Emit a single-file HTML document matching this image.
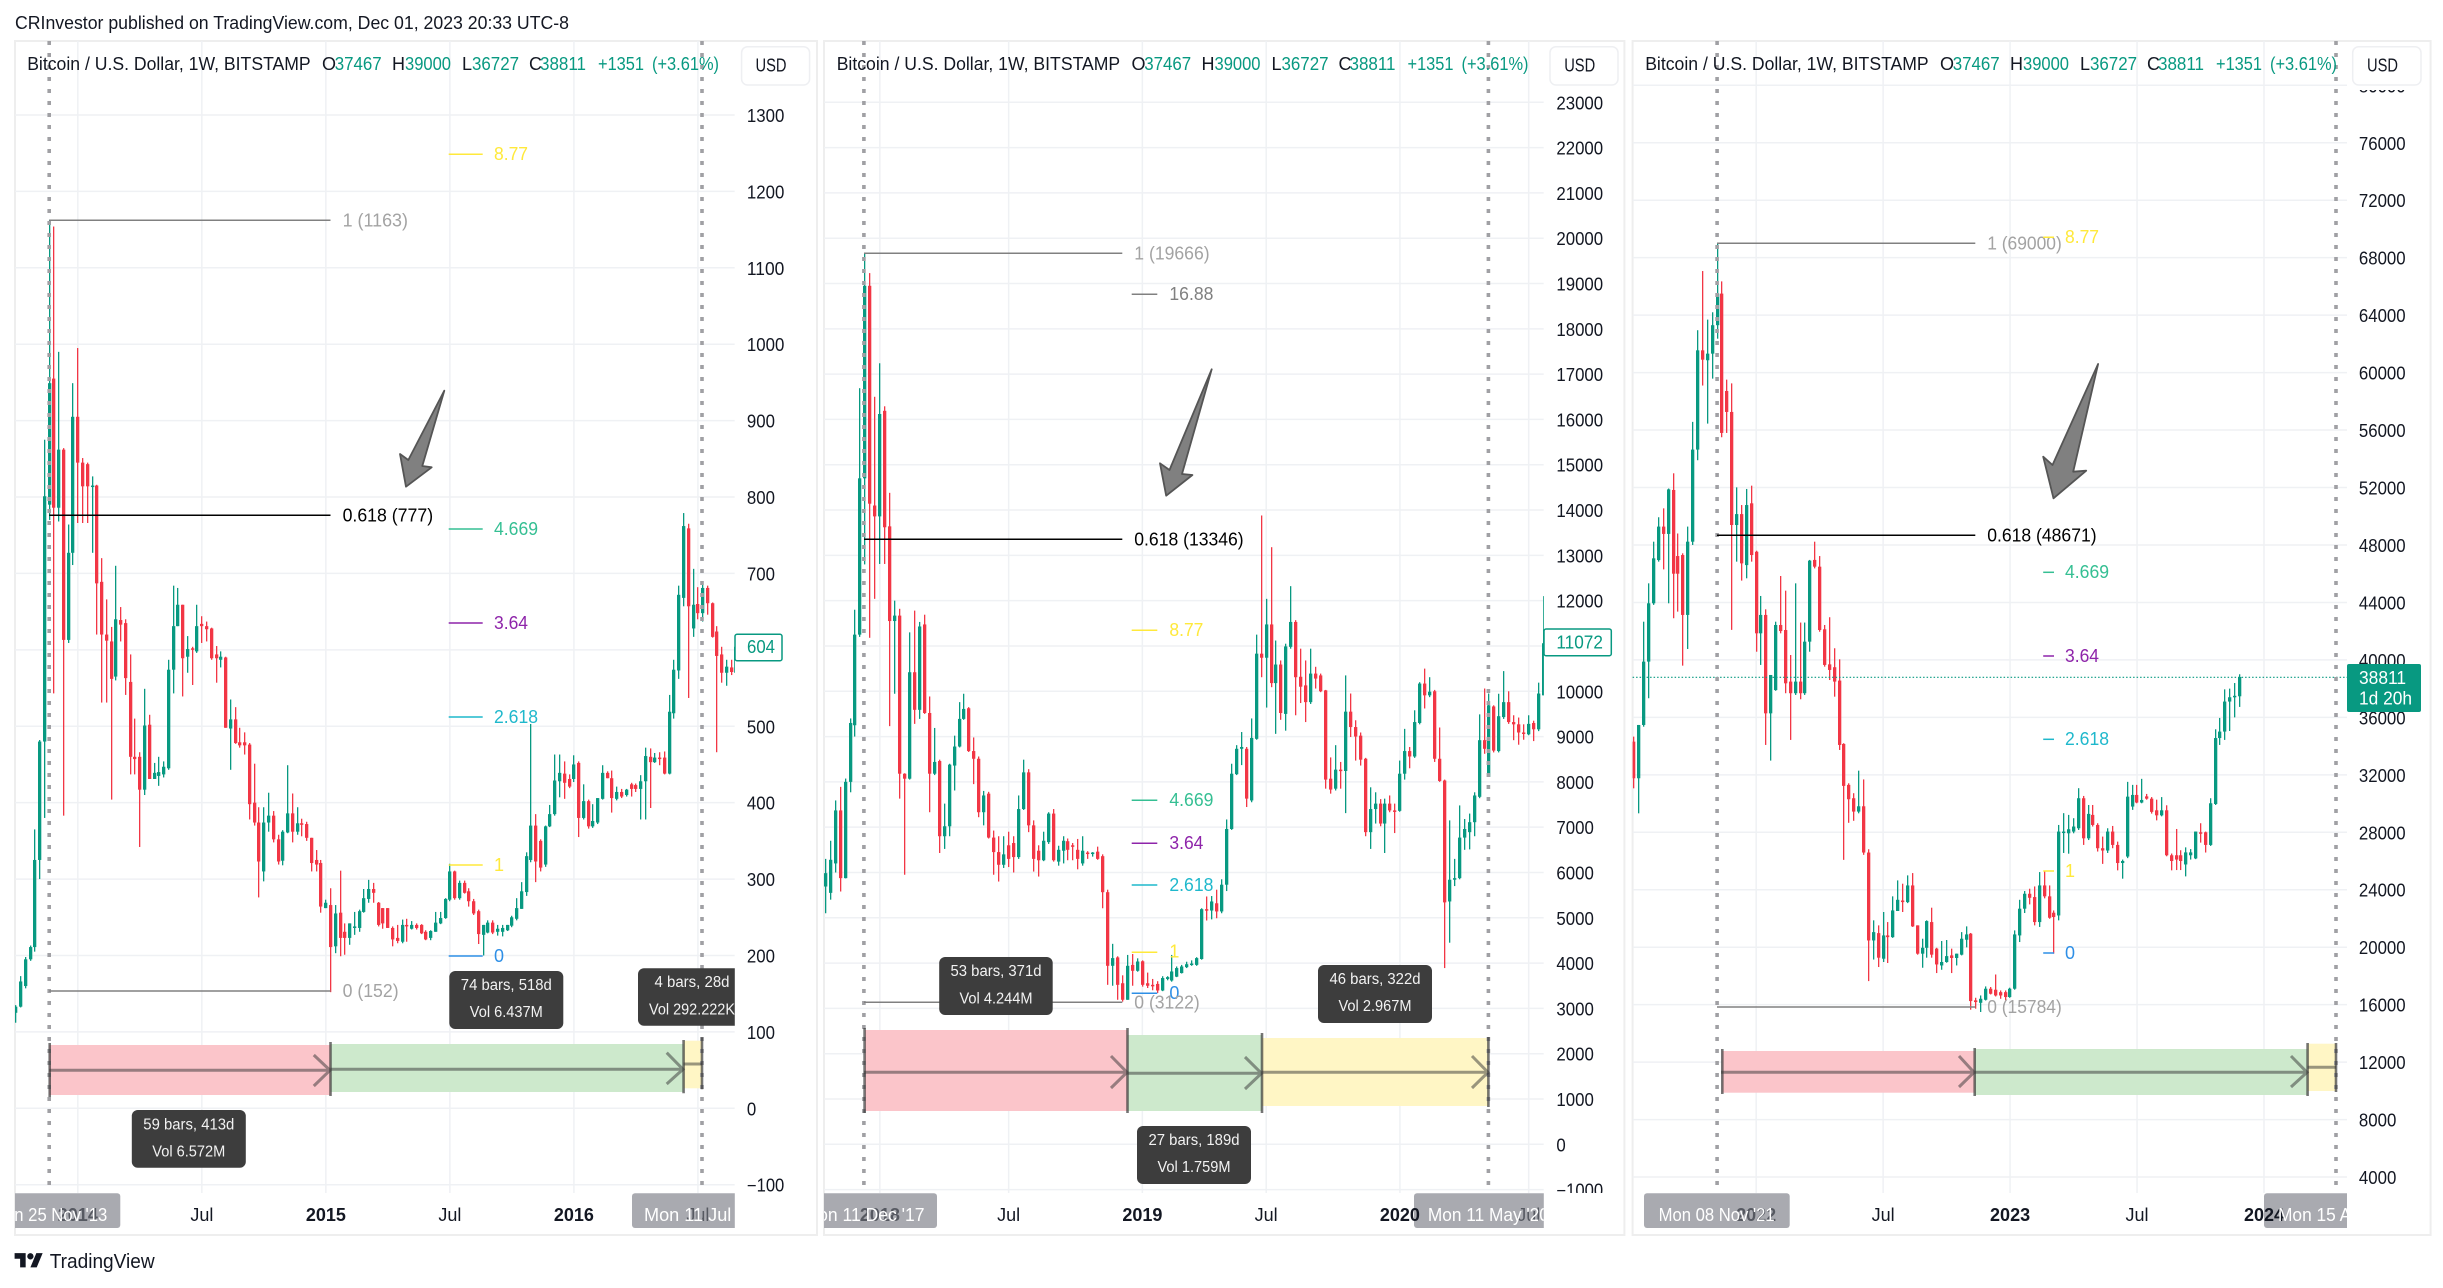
<!DOCTYPE html>
<html lang="en">
<head>
<meta charset="utf-8">
<title>Bitcoin / U.S. Dollar weekly comparison</title>
<style>
html,body{margin:0;padding:0;background:#fff;width:2443px;height:1288px;overflow:hidden}
svg{display:block;font-family:"Liberation Sans",sans-serif;fill:#131722}
text{dominant-baseline:central}
.lg{font-size:18px}
.g{fill:#089981}
.fib{font-size:18px}
.tt{font-size:15.5px;fill:#f2f2f2;text-anchor:middle}
.dt{font-size:18px;fill:#fff;text-anchor:middle}
.dot{stroke:#a0a0a4;stroke-width:3.6;stroke-dasharray:4 8;fill:none}
.edge{stroke:#333;stroke-opacity:.68;stroke-width:2.6;fill:none}
.arw{stroke:#333;stroke-opacity:.5;stroke-width:3;fill:none}
.grid{stroke:#eff1f4;stroke-width:1.5}
</style>
</head>
<body>
<svg id="chart" xmlns="http://www.w3.org/2000/svg" width="2443" height="1288" viewBox="0 0 2443 1288">
<defs>
<clipPath id="plot1"><rect x="15" y="41" width="719.8" height="1152"/></clipPath>
<clipPath id="plot2"><rect x="824" y="41" width="719.8" height="1152"/></clipPath>
<clipPath id="plot3"><rect x="1632.6" y="41" width="714.4" height="1152"/></clipPath>
<clipPath id="time1"><rect x="15" y="1193" width="719.8" height="42"/></clipPath>
<clipPath id="time2"><rect x="824" y="1193" width="719.8" height="42"/></clipPath>
<clipPath id="time3"><rect x="1632.6" y="1193" width="714.4" height="42"/></clipPath>
<clipPath id="axisclip"><rect x="0" y="88" width="2443" height="1105"/></clipPath>
<clipPath id="axisclip3"><rect x="0" y="90" width="2443" height="1103"/></clipPath>
</defs>
<rect x="0" y="0" width="2443" height="1288" fill="#ffffff"/>
<text x="15" y="23" font-size="18" textLength="554" lengthAdjust="spacingAndGlyphs">CRInvestor published on TradingView.com, Dec 01, 2023 20:33 UTC-8</text>

<!-- PANEL 1 -->
<g>
<rect x="15" y="41" width="802" height="1194" fill="#fff" stroke="#eeeeee" stroke-width="2"/>
<g id="grid1" clip-path="url(#plot1)"></g>
<g id="candles1" clip-path="url(#plot1)"></g>
<g clip-path="url(#plot1)">
<rect x="49.2" y="1045" width="281.3" height="50" fill="#fbc5ca"/>
<rect x="330.5" y="1044" width="353.1" height="48" fill="#cde9cc"/>
<rect x="683.6" y="1040.7" width="18.4" height="47.6" fill="#fff6c5"/>
<line class="dot" x1="49.2" x2="49.2" y1="41" y2="1186"/>
<line class="dot" x1="702" x2="702" y1="41" y2="1186"/>
<path class="edge" d="M49.7 1043V1097M330.5 1042V1096M683.6 1040V1093.3M702 1037.3V1089.3"/>
<path class="arw" d="M49.2 1070.3H330M313.8 1055L330 1070.3L313.8 1086M330.5 1069.3H683M666.7 1052.7L683 1069.3L666.7 1084M683.6 1064H702"/>
<line x1="49.2" x2="330.5" y1="220.3" y2="220.3" stroke="#808080" stroke-width="1.5"/>
<line x1="49.2" x2="330.5" y1="515.3" y2="515.3" stroke="#000" stroke-width="1.5"/>
<line x1="49.2" x2="330.5" y1="991" y2="991" stroke="#808080" stroke-width="1.5"/>
<text class="fib" x="342.6" y="220.3" fill="#a3a3a3" textLength="65.4" lengthAdjust="spacingAndGlyphs">1 (1163)</text>
<text class="fib" x="342.6" y="515.3" fill="#000" textLength="90.5" lengthAdjust="spacingAndGlyphs">0.618 (777)</text>
<text class="fib" x="342.6" y="991" fill="#a3a3a3" textLength="56" lengthAdjust="spacingAndGlyphs">0 (152)</text>
<path fill="none" stroke-width="1.5" stroke="#ffe93b" d="M448.7 154.3H482.7M448.7 865H482.7"/>
<line x1="448.7" x2="482.7" y1="529" y2="529" stroke="#35bf93" stroke-width="1.5"/>
<line x1="448.7" x2="482.7" y1="623" y2="623" stroke="#8e24aa" stroke-width="1.5"/>
<line x1="448.7" x2="482.7" y1="717" y2="717" stroke="#1fb8cc" stroke-width="1.5"/>
<line x1="448.7" x2="482.7" y1="956" y2="956" stroke="#2e8fe6" stroke-width="1.5"/>
<text class="fib" x="494" y="154" fill="#ffe93b" textLength="34" lengthAdjust="spacingAndGlyphs">8.77</text>
<text class="fib" x="494" y="529" fill="#35bf93" textLength="44" lengthAdjust="spacingAndGlyphs">4.669</text>
<text class="fib" x="494" y="623" fill="#8e24aa" textLength="34" lengthAdjust="spacingAndGlyphs">3.64</text>
<text class="fib" x="494" y="717" fill="#1fb8cc" textLength="44" lengthAdjust="spacingAndGlyphs">2.618</text>
<text class="fib" x="494" y="865" fill="#ffe93b">1</text>
<text class="fib" x="494" y="956" fill="#2e8fe6">0</text>
<polygon points="444.3,390.7 422.3,466 431.7,467.3 406,486.7 400,454 408.3,460" fill="#808080" stroke="#555" stroke-width="1.8" stroke-linejoin="round"/>
<g>
<rect x="131.8" y="1110" width="114" height="57.7" rx="6" fill="#3d3d3d"/>
<text class="tt" x="188.8" y="1125" textLength="91" lengthAdjust="spacingAndGlyphs">59 bars, 413d</text>
<text class="tt" x="188.8" y="1152" textLength="73" lengthAdjust="spacingAndGlyphs">Vol 6.572M</text>
</g>
<g>
<rect x="449.3" y="971" width="114" height="58" rx="6" fill="#3d3d3d"/>
<text class="tt" x="506.3" y="985.7" textLength="91" lengthAdjust="spacingAndGlyphs">74 bars, 518d</text>
<text class="tt" x="506.3" y="1012.7" textLength="73" lengthAdjust="spacingAndGlyphs">Vol 6.437M</text>
</g>
<g>
<rect x="638" y="968.3" width="114" height="57.4" rx="6" fill="#3d3d3d"/>
<text class="tt" x="692" y="982.7" textLength="75" lengthAdjust="spacingAndGlyphs">4 bars, 28d</text>
<text class="tt" x="692" y="1010" textLength="86" lengthAdjust="spacingAndGlyphs">Vol 292.222K</text>
</g>
</g>
<g clip-path="url(#time1)">
<rect x="-21" y="1193.3" width="141.3" height="34.7" rx="3" fill="#a9aab0"/>
<rect x="632" y="1193.3" width="140" height="34.7" rx="3" fill="#a9aab0"/>
<g id="xticks1"></g>
<text class="dt" x="49.2" y="1215" textLength="116" lengthAdjust="spacingAndGlyphs">Mon 25 Nov '13</text>
<text class="dt" x="702" y="1215" textLength="116" lengthAdjust="spacingAndGlyphs">Mon 11 Jul '16</text>
</g>
<g id="yticks1" clip-path="url(#axisclip)"></g>
<g>
<rect x="735" y="634.3" width="47" height="26.4" rx="2" fill="#fff" stroke="#089981" stroke-width="1.5"/>
<text class="g" x="747" y="647" font-size="18" textLength="28" lengthAdjust="spacingAndGlyphs">604</text>
</g>
<g>
<text class="lg" x="27.2" y="64" textLength="283.5" lengthAdjust="spacingAndGlyphs">Bitcoin / U.S. Dollar, 1W, BITSTAMP</text>
<text class="lg" x="322" y="64">O</text><text class="lg g" x="334.7" y="64" textLength="47" lengthAdjust="spacingAndGlyphs">37467</text>
<text class="lg" x="392" y="64">H</text><text class="lg g" x="405" y="64" textLength="46" lengthAdjust="spacingAndGlyphs">39000</text>
<text class="lg" x="462" y="64">L</text><text class="lg g" x="472" y="64" textLength="47" lengthAdjust="spacingAndGlyphs">36727</text>
<text class="lg" x="529" y="64">C</text><text class="lg g" x="540" y="64" textLength="46" lengthAdjust="spacingAndGlyphs">38811</text>
<text class="lg g" x="598" y="64" textLength="46" lengthAdjust="spacingAndGlyphs">+1351</text>
<text class="lg g" x="652" y="64" textLength="67" lengthAdjust="spacingAndGlyphs">(+3.61%)</text>
</g>
<g>
<rect x="741.6" y="46.7" width="68" height="38.3" rx="6" fill="#fff" stroke="#eeeff2" stroke-width="1.5"/>
<text x="771" y="65.7" font-size="18" text-anchor="middle" textLength="31" lengthAdjust="spacingAndGlyphs">USD</text>
</g>
</g>

<!-- PANEL 2 -->
<g>
<rect x="824" y="41" width="800.4" height="1194" fill="#fff" stroke="#eeeeee" stroke-width="2"/>
<g id="grid2" clip-path="url(#plot2)"></g>
<g id="candles2" clip-path="url(#plot2)"></g>
<g clip-path="url(#plot2)">
<rect x="865" y="1030" width="262.5" height="81" fill="#fbc5ca"/>
<rect x="1127.5" y="1035" width="134.5" height="76" fill="#cde9cc"/>
<rect x="1262" y="1038" width="226.4" height="68" fill="#fff6c5"/>
<line class="dot" x1="863.9" x2="863.9" y1="41" y2="1186"/>
<line class="dot" x1="1488.4" x2="1488.4" y1="41" y2="1186"/>
<path class="edge" d="M864.6 1028V1113M1127.5 1028V1113M1262 1033V1113M1488.4 1037V1107"/>
<path class="arw" d="M864 1072.3H1127M1111 1056L1127 1072.3L1111 1088M1127.5 1073.3H1261.5M1245 1057L1261.5 1073.3L1245 1089M1262 1072.3H1488M1472 1056L1488 1072.3L1472 1088"/>
<line x1="864" x2="1122.3" y1="253.3" y2="253.3" stroke="#808080" stroke-width="1.5"/>
<line x1="864" x2="1122.3" y1="539.3" y2="539.3" stroke="#000" stroke-width="1.5"/>
<line x1="864" x2="1122.3" y1="1002.3" y2="1002.3" stroke="#808080" stroke-width="1.5"/>
<text class="fib" x="1134.3" y="253.3" fill="#a3a3a3" textLength="75.3" lengthAdjust="spacingAndGlyphs">1 (19666)</text>
<text class="fib" x="1134.3" y="539.3" fill="#000" textLength="109.3" lengthAdjust="spacingAndGlyphs">0.618 (13346)</text>
<path fill="none" stroke-width="1.5" stroke="#ffe93b" d="M1131.7 630.3H1157.3M1131.7 952.3H1157.3"/>
<line x1="1131.7" x2="1157.3" y1="294.3" y2="294.3" stroke="#808080" stroke-width="1.5"/>
<line x1="1131.7" x2="1157.3" y1="800.3" y2="800.3" stroke="#35bf93" stroke-width="1.5"/>
<line x1="1131.7" x2="1157.3" y1="843.3" y2="843.3" stroke="#8e24aa" stroke-width="1.5"/>
<line x1="1131.7" x2="1157.3" y1="885" y2="885" stroke="#1fb8cc" stroke-width="1.5"/>
<line x1="1131.7" x2="1157.3" y1="993.3" y2="993.3" stroke="#2e8fe6" stroke-width="1.5"/>
<text class="fib" x="1169.4" y="294" fill="#808080" textLength="44" lengthAdjust="spacingAndGlyphs">16.88</text>
<text class="fib" x="1169.4" y="630" fill="#ffe93b" textLength="34" lengthAdjust="spacingAndGlyphs">8.77</text>
<text class="fib" x="1169.4" y="800" fill="#35bf93" textLength="44" lengthAdjust="spacingAndGlyphs">4.669</text>
<text class="fib" x="1169.4" y="843" fill="#8e24aa" textLength="34" lengthAdjust="spacingAndGlyphs">3.64</text>
<text class="fib" x="1169.4" y="885" fill="#1fb8cc" textLength="44" lengthAdjust="spacingAndGlyphs">2.618</text>
<text class="fib" x="1169.4" y="951.7" fill="#ffe93b">1</text>
<text class="fib" x="1169.4" y="993" fill="#2e8fe6">0</text>
<text class="fib" x="1134.3" y="1002.3" fill="#a3a3a3" textLength="65.4" lengthAdjust="spacingAndGlyphs">0 (3122)</text>
<polygon points="1211.7,369.3 1182,474 1192.4,475 1166.2,495.7 1160,463.3 1169.5,470" fill="#808080" stroke="#555" stroke-width="1.8" stroke-linejoin="round"/>
<g>
<rect x="939.2" y="957" width="113.5" height="58" rx="6" fill="#3d3d3d"/>
<text class="tt" x="996" y="971.7" textLength="91" lengthAdjust="spacingAndGlyphs">53 bars, 371d</text>
<text class="tt" x="996" y="999" textLength="73" lengthAdjust="spacingAndGlyphs">Vol 4.244M</text>
</g>
<g>
<rect x="1137" y="1126" width="114" height="58" rx="6" fill="#3d3d3d"/>
<text class="tt" x="1194" y="1140.7" textLength="91" lengthAdjust="spacingAndGlyphs">27 bars, 189d</text>
<text class="tt" x="1194" y="1167.7" textLength="73" lengthAdjust="spacingAndGlyphs">Vol 1.759M</text>
</g>
<g>
<rect x="1318" y="965" width="114" height="58" rx="6" fill="#3d3d3d"/>
<text class="tt" x="1375" y="979.3" textLength="91" lengthAdjust="spacingAndGlyphs">46 bars, 322d</text>
<text class="tt" x="1375" y="1006.7" textLength="73" lengthAdjust="spacingAndGlyphs">Vol 2.967M</text>
</g>
</g>
<g clip-path="url(#time2)">
<rect x="790" y="1193.3" width="147" height="34.7" rx="3" fill="#a9aab0"/>
<rect x="1414" y="1193.3" width="149" height="34.7" rx="3" fill="#a9aab0"/>
<g id="xticks2"></g>
<text class="dt" x="864" y="1215" textLength="121" lengthAdjust="spacingAndGlyphs">Mon 11 Dec '17</text>
<text class="dt" x="1488.4" y="1215" textLength="121" lengthAdjust="spacingAndGlyphs">Mon 11 May '20</text>
</g>
<g id="yticks2" clip-path="url(#axisclip)"></g>
<g>
<rect x="1544" y="629" width="67.3" height="26.7" rx="2" fill="#fff" stroke="#089981" stroke-width="1.5"/>
<text class="g" x="1556.4" y="642.7" font-size="18" textLength="46.5" lengthAdjust="spacingAndGlyphs">11072</text>
</g>
<g transform="translate(809.5,0)">
<text class="lg" x="27.2" y="64" textLength="283.5" lengthAdjust="spacingAndGlyphs">Bitcoin / U.S. Dollar, 1W, BITSTAMP</text>
<text class="lg" x="322" y="64">O</text><text class="lg g" x="334.7" y="64" textLength="47" lengthAdjust="spacingAndGlyphs">37467</text>
<text class="lg" x="392" y="64">H</text><text class="lg g" x="405" y="64" textLength="46" lengthAdjust="spacingAndGlyphs">39000</text>
<text class="lg" x="462" y="64">L</text><text class="lg g" x="472" y="64" textLength="47" lengthAdjust="spacingAndGlyphs">36727</text>
<text class="lg" x="529" y="64">C</text><text class="lg g" x="540" y="64" textLength="46" lengthAdjust="spacingAndGlyphs">38811</text>
<text class="lg g" x="598" y="64" textLength="46" lengthAdjust="spacingAndGlyphs">+1351</text>
<text class="lg g" x="652" y="64" textLength="67" lengthAdjust="spacingAndGlyphs">(+3.61%)</text>
</g>
<g>
<rect x="1550" y="46.7" width="68" height="38.3" rx="6" fill="#fff" stroke="#eeeff2" stroke-width="1.5"/>
<text x="1579.7" y="65.7" font-size="18" text-anchor="middle" textLength="31" lengthAdjust="spacingAndGlyphs">USD</text>
</g>
</g>

<!-- PANEL 3 -->
<g>
<rect x="1632.6" y="41" width="798" height="1194" fill="#fff" stroke="#eeeeee" stroke-width="2"/>
<g id="grid3" clip-path="url(#plot3)"></g>
<g id="candles3" clip-path="url(#plot3)"></g>
<line x1="1632.6" x2="2347" y1="677.3" y2="677.3" stroke="#089981" stroke-width="1.2" stroke-dasharray="1.5 2"/>
<g clip-path="url(#plot3)">
<rect x="1722.3" y="1051" width="252.4" height="41.7" fill="#fbc5ca"/>
<rect x="1974.7" y="1049" width="332.9" height="46" fill="#cde9cc"/>
<rect x="2307.6" y="1043.7" width="28.4" height="47.3" fill="#fff6c5"/>
<line class="dot" x1="1717.1" x2="1717.1" y1="41" y2="1186"/>
<line class="dot" x1="2336" x2="2336" y1="41" y2="1186"/>
<path class="edge" d="M1722.3 1049V1094M1974.7 1048V1096M2307.6 1043V1096M2336 1043V1092"/>
<path class="arw" d="M1721 1072.3H1974M1959 1056L1974 1072.3L1959 1087M1974.7 1072.3H2307M2291 1056L2307 1072.3L2291 1087M2307.6 1067.3H2336"/>
<line x1="1717" x2="1975.3" y1="243.3" y2="243.3" stroke="#808080" stroke-width="1.5"/>
<line x1="1717" x2="1975.3" y1="535.3" y2="535.3" stroke="#000" stroke-width="1.5"/>
<line x1="1717" x2="1975.3" y1="1007" y2="1007" stroke="#808080" stroke-width="1.5"/>
<text class="fib" x="1987.2" y="243.3" fill="#a3a3a3" textLength="74.6" lengthAdjust="spacingAndGlyphs">1 (69000)</text>
<text class="fib" x="1987.2" y="535.3" fill="#000" textLength="109.4" lengthAdjust="spacingAndGlyphs">0.618 (48671)</text>
<text class="fib" x="1987.2" y="1007" fill="#a3a3a3" textLength="74.6" lengthAdjust="spacingAndGlyphs">0 (15784)</text>
<path fill="none" stroke-width="1.5" stroke="#ffe93b" d="M2043.2 237.3H2054M2043.2 871H2054"/>
<line x1="2043.2" x2="2054" y1="572.3" y2="572.3" stroke="#35bf93" stroke-width="1.5"/>
<line x1="2043.2" x2="2054" y1="656" y2="656" stroke="#8e24aa" stroke-width="1.5"/>
<line x1="2043.2" x2="2054" y1="739.3" y2="739.3" stroke="#1fb8cc" stroke-width="1.5"/>
<line x1="2043.2" x2="2054" y1="953" y2="953" stroke="#2e8fe6" stroke-width="1.5"/>
<text class="fib" x="2065" y="237" fill="#ffe93b" textLength="34" lengthAdjust="spacingAndGlyphs">8.77</text>
<text class="fib" x="2065" y="572" fill="#35bf93" textLength="44" lengthAdjust="spacingAndGlyphs">4.669</text>
<text class="fib" x="2065" y="656" fill="#8e24aa" textLength="34" lengthAdjust="spacingAndGlyphs">3.64</text>
<text class="fib" x="2065" y="739" fill="#1fb8cc" textLength="44" lengthAdjust="spacingAndGlyphs">2.618</text>
<text class="fib" x="2065" y="871" fill="#ffe93b">1</text>
<text class="fib" x="2065" y="953" fill="#2e8fe6">0</text>
<polygon points="2098.1,364 2073.2,471.7 2086.2,470.7 2053.5,498.3 2043.2,456.7 2052.5,465" fill="#808080" stroke="#555" stroke-width="1.8" stroke-linejoin="round"/>
</g>
<g clip-path="url(#time3)">
<rect x="1644" y="1193.3" width="145.7" height="34.7" rx="3" fill="#a9aab0"/>
<rect x="2264" y="1193.3" width="145" height="34.7" rx="3" fill="#a9aab0"/>
<g id="xticks3"></g>
<text class="dt" x="1716.6" y="1215" textLength="116" lengthAdjust="spacingAndGlyphs">Mon 08 Nov '21</text>
<text class="dt" x="2336" y="1215" textLength="116" lengthAdjust="spacingAndGlyphs">Mon 15 Apr '24</text>
</g>
<g id="yticks3" clip-path="url(#axisclip3)"></g>
<g>
<rect x="2347" y="664" width="74" height="48" rx="2" fill="#089981"/>
<text x="2359" y="678" font-size="18" fill="#fff" textLength="47" lengthAdjust="spacingAndGlyphs">38811</text>
<text x="2359" y="698.7" font-size="18" fill="#fff" textLength="53" lengthAdjust="spacingAndGlyphs">1d 20h</text>
</g>
<g transform="translate(1618,0)">
<text class="lg" x="27.2" y="64" textLength="283.5" lengthAdjust="spacingAndGlyphs">Bitcoin / U.S. Dollar, 1W, BITSTAMP</text>
<text class="lg" x="322" y="64">O</text><text class="lg g" x="334.7" y="64" textLength="47" lengthAdjust="spacingAndGlyphs">37467</text>
<text class="lg" x="392" y="64">H</text><text class="lg g" x="405" y="64" textLength="46" lengthAdjust="spacingAndGlyphs">39000</text>
<text class="lg" x="462" y="64">L</text><text class="lg g" x="472" y="64" textLength="47" lengthAdjust="spacingAndGlyphs">36727</text>
<text class="lg" x="529" y="64">C</text><text class="lg g" x="540" y="64" textLength="46" lengthAdjust="spacingAndGlyphs">38811</text>
<text class="lg g" x="598" y="64" textLength="46" lengthAdjust="spacingAndGlyphs">+1351</text>
<text class="lg g" x="652" y="64" textLength="67" lengthAdjust="spacingAndGlyphs">(+3.61%)</text>
</g>
<g>
<rect x="2352.7" y="46.7" width="68.3" height="38.3" rx="6" fill="#fff" stroke="#eeeff2" stroke-width="1.5"/>
<text x="2382.5" y="65.7" font-size="18" text-anchor="middle" textLength="31" lengthAdjust="spacingAndGlyphs">USD</text>
</g>
</g>

<g>
<g transform="translate(14.6,1250) scale(.79)" fill="#131722">
<path d="M14 22H7V11H0V4h14v18z"/>
<path d="M28 22h-8l7.5-18h8L28 22z"/>
<circle cx="20" cy="8" r="4"/>
</g>
<text x="49.7" y="1262" font-size="20" textLength="105" lengthAdjust="spacingAndGlyphs">TradingView</text>
</g>
</svg>

<script>
/* Panel 1: BTC weekly, first candle sits 7 bars left of Mon 25 Nov '13 */
const p1FirstBar = -7;
const p1Open = [
125,133,160,195,211,325,480,790,955,786,
862,613,727,905,845,843,814,815,689,620,
611,565,639,635,558,460,460,417,502,431,
435,437,445,574,631,659,591,602,598,634,
631,628,594,587,590,497,509,479,479,476,
400,374,310,374,383,352,324,361,386,362,
373,372,354,325,321,262,266,212,256,231,
223,236,236,257,274,287,269,262,262,236,
223,218,240,235,240,240,231,223,231,242,
249,273,310,275,295,284,271,258,227,230,
243,231,231,233,239,248,261,283,325,370,
350,319,369,385,428,438,431,431,452,380,
402,369,374,405,439,432,405,414,410,424,
423,418,428,460,453,459,459,438,517,573,
668,759,628,660,648,681,661,624,594,570,577,570];
const p1High = [
135,173,198,213,365,482,875,1163,1154,990,
864,764,949,995,851,845,827,816,720,666,
630,710,656,640,594,510,466,549,515,452,
460,454,587,684,681,659,618,604,659,644,
637,629,605,598,591,535,525,498,492,478,
451,394,394,413,389,358,364,449,412,394,
379,375,354,338,325,273,288,266,311,242,
242,257,260,287,299,295,270,262,262,238,
240,247,248,245,242,241,233,233,257,257,
275,320,311,298,298,288,274,260,240,246,
246,240,240,240,252,275,296,335,503,385,
352,370,397,463,463,454,437,462,454,424,
404,398,406,449,441,442,421,418,418,426,
425,436,472,471,465,466,467,541,587,684,
779,765,706,682,687,684,662,631,604,587,587,604];
const p1Low = [
112,132,157,193,205,300,380,770,543,768,
383,609,711,766,766,766,727,620,531,531,
404,560,611,541,437,437,342,410,431,431,
422,433,443,543,631,539,570,554,596,609,
611,587,557,577,498,443,477,472,463,378,
370,276,297,362,348,319,318,360,348,358,
356,350,310,310,256,262,152,203,199,201,
214,227,231,256,269,269,238,235,236,212,
216,216,218,234,234,228,220,220,231,241,
248,271,273,273,281,264,253,215,200,229,
228,226,225,232,237,246,261,278,322,296,
310,316,368,383,407,405,419,427,355,378,
366,367,372,404,432,387,403,406,408,408,
414,378,378,393,452,449,437,437,510,562,
657,537,617,640,637,646,616,466,557,553,567,569];
const p1Close = [
133,166,195,211,325,480,801,949,786,862,
613,727,905,845,814,814,815,687,620,612,
562,640,633,563,460,457,417,501,431,439,
440,447,574,631,659,589,601,600,631,631,
627,589,589,591,498,509,478,475,475,398,
374,323,374,383,352,323,362,386,362,373,
372,354,321,319,264,269,211,255,223,223,
242,238,258,275,287,282,240,242,236,221,
219,240,239,240,236,229,221,232,243,249,
274,310,275,295,282,271,255,228,240,243,
230,235,236,240,250,262,284,330,370,323,
315,369,385,429,439,426,421,450,380,402,
369,376,406,439,432,406,414,408,417,418,
418,428,461,453,459,458,438,519,574,672,
762,657,659,648,681,661,617,592,570,578,571,604];
const p1PriceTicks = [-100,0,100,200,300,400,500,600,700,800,900,1000,1100,1200,1300];
const p1TimeBars = [6,32,58,84,110,136];
const p1TimeLabels = ['2014','Jul','2015','Jul','2016','Jul'];

/* Panel 2: first candle sits 8 bars left of Mon 11 Dec '17 */
const p2FirstBar = -8;
const p2Open = [
5690,5550,6200,7370,5875,8000,9250,11250,14700,18950,
14100,13860,16190,13640,11550,11670,8180,8070,10420,9590,
11475,9520,8180,8460,6800,7020,8360,8780,9390,9625,
8680,8510,7330,7740,6770,6450,6170,6600,6650,6340,
7400,8210,7040,6480,6270,6670,7300,6240,6480,6690,
6600,6500,6200,6440,6420,6460,6360,5565,3940,4125,
3555,3190,3960,3830,4040,3555,3520,3540,3395,3650,
3615,3700,3780,3910,3960,3960,4090,5190,5160,5320,
5140,5730,6960,8170,8730,8730,7590,8950,10830,10740,
11475,10180,10590,9500,10980,11530,10320,10130,9760,10390,
10350,10020,8070,7850,8270,8240,9550,9210,9020,8510,
6890,7400,7520,7080,7520,7370,7360,8180,8680,8560,
9300,10170,9910,10000,8510,8030,5360,5840,5875,6770,
6890,7110,7670,8920,8110,9665,8680,9430,9760,9320,
9270,9090,9050,9300,9160,9910];
const p2High = [
6300,6700,7590,7890,8073,9400,11800,16690,19666,19230,
16500,17240,16290,14380,12000,11820,8190,11300,11780,11530,
11690,9885,9190,8490,7520,8400,9020,9760,9945,9650,
8980,8560,7800,7780,6925,6800,6800,6900,6800,7700,
8490,8280,7150,6600,6900,7330,7400,6590,6800,6750,
6650,6740,6800,6470,6450,6570,6400,5620,4425,4150,
3730,4180,4200,4105,4060,3790,3650,3600,3710,3710,
4180,3925,3960,4030,4060,4130,5210,5470,5480,5620,
5850,7170,8400,8810,9100,8770,9400,11250,13880,12040,
13180,11120,10680,11050,12320,11570,10940,10680,10940,10540,
10390,10030,8540,8810,8440,10350,9950,9360,9090,8530,
7880,7770,7620,7630,7700,7520,8470,9170,8770,9580,
10200,10500,10310,10030,9200,8050,7150,6300,7480,7180,
7300,7770,9490,10060,9950,9690,9945,10445,10000,9470,
9420,9270,9470,9350,10190,12100];
const p2Low = [
5100,5400,6000,5580,5870,7770,9000,11200,12800,11180,
12040,12810,12810,9230,9945,7630,5950,8050,9280,9390,
9500,7330,8150,6430,6520,6800,7810,8760,9370,8660,
7950,7220,7040,6750,5950,5800,6100,6120,6000,6300,
7380,6890,6020,5910,6250,6630,6240,6150,6200,6270,
6270,6070,6150,6300,6350,6280,5210,3520,3500,3190,
3150,3190,3500,3810,3480,3450,3400,3340,3380,3620,
3590,3690,3770,3890,3940,3940,4075,4940,4965,4990,
5100,5590,6940,8150,8370,7445,7550,8930,10310,9640,
10090,9060,9370,9130,10940,9470,9740,9320,9720,10060,
9980,7850,7740,7810,7850,7310,8990,8470,8360,6800,
6520,7080,7020,6430,7330,6870,7340,8050,8300,8530,
9270,9620,9870,8440,8000,3890,4450,5700,5850,6500,
6510,6800,7640,8620,8110,8650,8650,9390,9280,8920,
8820,8930,9030,8900,9120,9910];
const p2Close = [
5985,6280,7370,5875,8000,9300,11250,14700,18950,14140,
13860,16120,13620,11550,11670,8180,8070,10420,9590,11430,
9520,8180,8440,6800,7020,8380,8780,9390,9610,8680,
8510,7330,7700,6770,6450,6170,6400,6300,6340,7400,
8210,7040,6300,6270,6700,7300,6270,6500,6700,6500,
6580,6300,6480,6420,6440,6300,5565,3940,4110,3520,
3190,3940,3830,4035,3520,3500,3490,3395,3670,3690,
3815,3890,3925,3975,3990,4110,5190,5160,5360,5140,
5730,6960,8180,8730,8770,7630,8970,10830,10740,11475,
10180,10590,9520,10990,11530,10310,10100,9760,10390,10280,
10000,8050,7830,8270,8240,9550,9210,9000,8490,6890,
7400,7520,7080,7520,7370,7360,8180,8680,8560,9320,
10170,9910,9990,8510,8020,5340,5840,5875,6770,6960,
7110,7700,8920,8730,9690,8690,9450,9760,9320,9270,
9090,9060,9280,9160,9950,11060];
const p2PriceTicks = [-1000,0,1000,2000,3000,4000,5000,6000,7000,8000,9000,10000,11000,12000,13000,14000,15000,16000,17000,18000,19000,20000,21000,22000,23000];
const p2TimeBars = [3,29,56,81,108,134];
const p2TimeLabels = ['2018','Jul','2019','Jul','2020','Jul'];

/* Panel 3: first candle sits 17 bars left of Mon 08 Nov '21 */
const p3FirstBar = -17;
const p3Open = [
34310,31760,35470,39880,43940,46950,49280,48770,51830,47230,
47300,43130,48230,54640,61550,60860,61320,63300,65500,58720,
57260,49390,50150,46600,50900,47530,41850,43130,36280,37900,
42430,42080,38490,37680,38490,37680,41270,46960,46490,42130,
39690,39490,38560,34150,31300,30370,29440,29810,26590,20470,
20980,19200,20820,20700,22520,23250,23140,24300,21520,19550,
19960,21750,19900,18730,18970,19430,19250,19480,20520,20940,
16300,16130,16340,17110,17040,16870,16870,16530,17110,20820,
22680,23720,23490,21750,24300,23540,22400,22210,27950,27930,
28050,28280,30370,27580,29210,28510,26890,26730,28050,27120,
25860,26310,29790,30600,30070,30500,30340,29530,29180,29530,
26400,26400,26400,25760,26400,26180,28000,28000,27120,29970,
34560,35010,37100,37400,37467];
const p3High = [
34660,35470,42660,45330,48230,49930,50550,51930,52990,48800,
47420,49280,56570,62950,67070,63690,64200,69000,66350,59510,
59250,52010,50780,51900,52130,47600,44450,43520,38950,42660,
45840,44820,40340,45330,42600,42600,46960,48230,47230,42430,
42970,40810,40040,34200,31410,30720,32290,31680,26820,21870,
21520,22450,21750,23540,24650,24420,25000,25160,21520,20590,
21870,22750,19960,20430,20500,19900,19550,21050,21450,20990,
16480,16640,17270,17230,18100,16990,16990,17180,21170,23300,
23910,24070,24230,25230,25280,24300,22560,28510,29330,29210,
28980,31070,30530,29900,29900,28630,27700,28280,28440,27350,
26100,31510,31300,31300,31720,30670,30450,30270,30450,29880,
26520,28230,26750,26950,26830,28050,28630,28050,30370,35170,
35960,37950,38000,38390,39000];
const p3Low = [
31060,29320,35350,37330,43830,46840,46300,43940,42900,43360,
39600,40760,48000,53900,59100,56450,59580,62360,55500,55800,
42090,46840,45520,45680,46840,40570,39650,34080,32990,37850,
41850,37680,34430,37560,37260,37560,40570,46370,41960,39530,
38600,37440,33730,26080,28660,28800,29320,26430,17640,19140,
18620,18970,18900,20650,22520,22450,23070,21410,19480,18570,
19270,19270,18200,18430,18920,18200,18730,19430,19990,15650,
15720,15490,16290,16710,16570,16410,16300,16480,17040,20360,
22380,22980,21520,21410,23400,21980,19550,21870,26560,26510,
27930,28160,27120,27460,28400,26660,25800,26560,26890,25350,
24770,26200,29560,30020,30020,30270,29300,28830,29110,26330,
25350,25370,25370,24930,26100,26130,27280,26590,27050,29900,
34080,34430,35050,36000,36727];
const p3Close = [
31760,35470,39880,43940,47070,49280,48770,51870,46000,46000,
43130,48230,54640,61550,60900,61320,63300,65500,55800,57260,
49390,50150,46720,50780,47300,41850,43130,36280,38950,42430,
42010,38370,37680,38490,37680,41270,46910,46490,42080,39650,
39300,38490,34080,31230,30300,29440,29810,26590,20470,21050,
19270,20820,20700,22560,23300,23140,24300,21450,19550,19960,
21820,19480,18800,18970,19380,19250,19550,20590,20890,16250,
16180,16410,17110,16760,16640,16640,16530,17110,20890,22680,
23720,23440,21750,24300,23540,22050,22100,28050,28050,28210,
28400,30370,27580,29280,28510,26890,26730,28050,27120,25860,
26000,30480,30600,30070,30250,30340,29420,29180,29530,26400,
26000,26100,26000,26600,26600,28050,27950,27120,30020,34560,
35010,37100,37400,37500,38811];
const p3PriceTicks = [4000,8000,12000,16000,20000,24000,28000,32000,36000,40000,44000,48000,52000,56000,60000,64000,68000,72000,76000,80000];
const p3TimeBars = [8,34,60,86,112];
const p3TimeLabels = ['2022','Jul','2023','Jul','2024'];

const SVG_NS = 'http://www.w3.org/2000/svg';
const UP_COLOR = '#089981';
const DOWN_COLOR = '#f23645';

/* Axis functions: bar index to x pixel, price to y pixel */
function p1X(bar){ return 49.2 + 4.77 * bar; }
function p1Y(price){ return 1108.3 - 0.7641 * price; }
function p2X(bar){ return 865 + 4.953 * bar; }
function p2Y(price){ return 1144.3 - 0.045304 * price; }
function p3X(bar){ return 1717.1 + 4.883 * bar; }
function p3Y(price){ return 1234.5 - 0.014365 * price; }

function addRect(parent, name, x, y, w, h, fill){
  const el = document.createElementNS(SVG_NS, 'rect');
  
  
  el.setAttribute('x', x);
  el.setAttribute('y', y);
  el.setAttribute('width', w);
  el.setAttribute('height', h);
  el.setAttribute('fill', fill);
  parent.appendChild(el);
}

function drawCandles(targetId, firstBar, opens, highs, lows, closes, xFn, yFn){
  const target = document.getElementById(targetId);
  closes.forEach(function(close, k){
    const open = opens[k];
    const rising = close >= open;
    const color = rising ? UP_COLOR : DOWN_COLOR;
    const x = xFn(firstBar + k);
    const g = document.createElementNS(SVG_NS, 'g');
    
    
    const wickTop = yFn(highs[k]);
    addRect(g, 'candle-wick', Math.round(x - 0.6), wickTop, 1.3, yFn(lows[k]) - wickTop, color);
    const bodyTop = yFn(Math.max(open, close));
    const bodyH = Math.max(yFn(Math.min(open, close)) - bodyTop, 1.5);
    addRect(g, 'candle-body', Math.round(x - 1.6), bodyTop, 3.3, bodyH, color);
    target.appendChild(g);
  });
}

function drawGrid(targetId, priceTicks, timeBars, xFn, yFn, left, right){
  const target = document.getElementById(targetId);
  priceTicks.forEach(function(tick){
    const el = document.createElementNS(SVG_NS, 'line');
    
    
    el.setAttribute('class', 'grid');
    el.setAttribute('x1', left);
    el.setAttribute('x2', right);
    el.setAttribute('y1', yFn(tick));
    el.setAttribute('y2', yFn(tick));
    target.appendChild(el);
  });
  timeBars.forEach(function(bar){
    const el = document.createElementNS(SVG_NS, 'line');
    
    
    el.setAttribute('class', 'grid');
    el.setAttribute('x1', xFn(bar));
    el.setAttribute('x2', xFn(bar));
    el.setAttribute('y1', 41);
    el.setAttribute('y2', 1193);
    target.appendChild(el);
  });
}

function drawPriceLabels(targetId, priceTicks, yFn, labelX){
  const target = document.getElementById(targetId);
  priceTicks.forEach(function(tick){
    const label = tick < 0 ? '\u2212' + Math.abs(tick) : String(tick);
    const el = document.createElementNS(SVG_NS, 'text');
    
    
    el.setAttribute('x', labelX);
    el.setAttribute('y', yFn(tick) + 1);
    el.setAttribute('font-size', '18');
    el.setAttribute('textLength', label.length * 9.35);
    el.setAttribute('lengthAdjust', 'spacingAndGlyphs');
    el.textContent = label;
    target.appendChild(el);
  });
}

function drawTimeLabels(targetId, timeBars, timeLabels, xFn, dimBelow, dimAbove){
  const target = document.getElementById(targetId);
  timeBars.forEach(function(bar, k){
    const x = xFn(bar);
    const el = document.createElementNS(SVG_NS, 'text');
    
    
    el.setAttribute('x', x);
    el.setAttribute('y', 1215);
    el.setAttribute('font-size', '18');
    el.setAttribute('text-anchor', 'middle');
    if (timeLabels[k] !== 'Jul') { el.setAttribute('font-weight', 'bold'); }
    if (x < dimBelow || x > dimAbove) { el.setAttribute('opacity', '0.55'); }
    el.textContent = timeLabels[k];
    target.appendChild(el);
  });
}

drawGrid('grid1', p1PriceTicks, p1TimeBars, p1X, p1Y, 15, 734.8);
drawCandles('candles1', p1FirstBar, p1Open, p1High, p1Low, p1Close, p1X, p1Y);
drawPriceLabels('yticks1', p1PriceTicks, p1Y, 746.9);
drawTimeLabels('xticks1', p1TimeBars, p1TimeLabels, p1X, 120, 632);

drawGrid('grid2', p2PriceTicks, p2TimeBars, p2X, p2Y, 824, 1543.8);
drawCandles('candles2', p2FirstBar, p2Open, p2High, p2Low, p2Close, p2X, p2Y);
drawPriceLabels('yticks2', p2PriceTicks, p2Y, 1556.4);
drawTimeLabels('xticks2', p2TimeBars, p2TimeLabels, p2X, 937, 1414);

drawGrid('grid3', p3PriceTicks, p3TimeBars, p3X, p3Y, 1632.6, 2347);
drawCandles('candles3', p3FirstBar, p3Open, p3High, p3Low, p3Close, p3X, p3Y);
drawPriceLabels('yticks3', p3PriceTicks, p3Y, 2358.9);
drawTimeLabels('xticks3', p3TimeBars, p3TimeLabels, p3X, 1790, 2270);
</script>
</body>
</html>
